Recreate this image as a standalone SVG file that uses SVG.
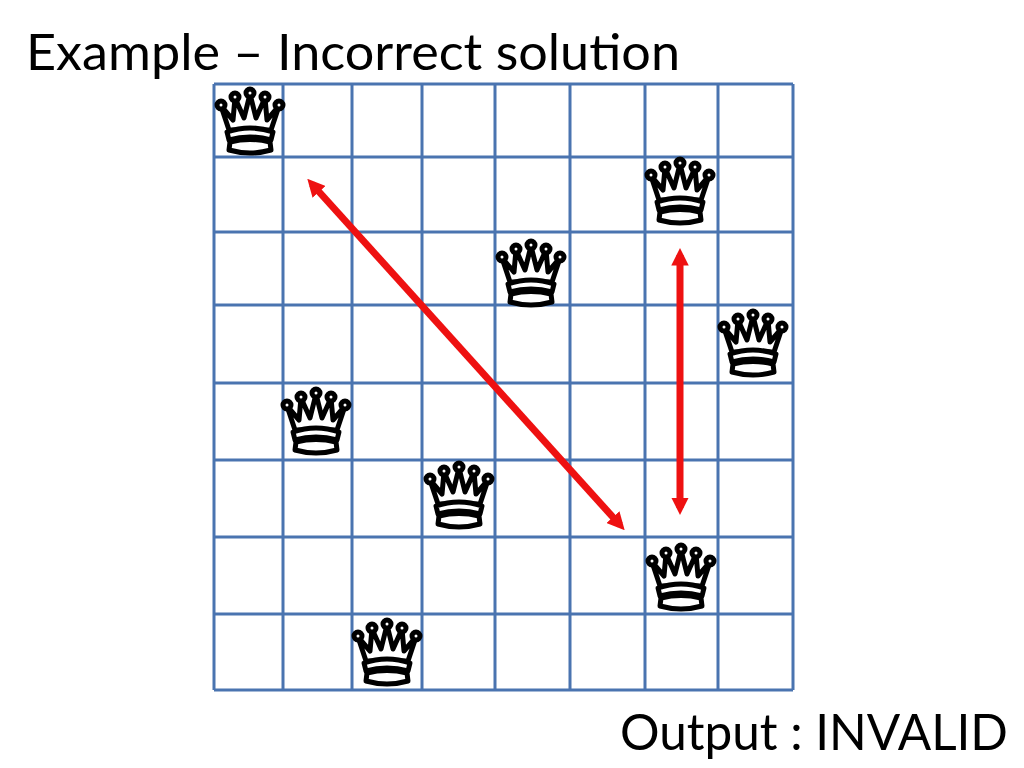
<svg xmlns="http://www.w3.org/2000/svg" width="1024" height="768" viewBox="0 0 1024 768">
<style>
.g{stroke:#4a74b0;stroke-width:3;fill:none}
.t{font-family:"Lato","Liberation Sans",sans-serif;fill:#000}
.q{fill:#fff;stroke:#000;stroke-width:5;stroke-linejoin:round}
.a{stroke:#ee1111;stroke-width:7;fill:none}
</style>
<defs>
<marker id="h" viewBox="0 0 10 10" refX="6" refY="5" markerWidth="2.5" markerHeight="2.5" orient="auto-start-reverse"><path d="M0,0 L10,5 L0,10 Z" fill="#ee1111"/></marker>
<g id="queen">
<path class="q" d="M14,44 L6,20 L18,34 L20,12 L29,32 L35,8 L41,32 L50,12 L52,34 L64,20 L56,44 Z"/>
<path class="q" d="M12,46 Q35,38 58,46 L56,54 Q35,48 14,54 Z"/>
<path class="q" d="M15,56 Q35,51 55,56 L56,64 Q35,70 14,64 Z"/>
<circle class="q" cx="6" cy="19" r="4"/><circle class="q" cx="20" cy="11" r="4"/><circle class="q" cx="35" cy="7" r="4"/><circle class="q" cx="50" cy="11" r="4"/><circle class="q" cx="64" cy="19" r="4"/>
</g>
</defs>
<rect width="1024" height="768" fill="#fff"/>
<text class="t" x="26" y="70" font-size="50" textLength="654" lengthAdjust="spacingAndGlyphs">Example – Incorrect solution</text>
<g id="grid" class="g">
<path d="M214,84V690M283,84V690M352,84V690M422,84V690M495,84V690M570,84V690M645,84V690M718,84V690M793,84V690"/>
<path d="M214,84H793M214,157H793M214,232H793M214,305H793M214,383H793M214,460H793M214,537H793M214,614H793M214,690H793"/>
</g>
<g id="queens">
<use href="#queen" x="215" y="86"/>
<use href="#queen" x="645" y="156"/>
<use href="#queen" x="496" y="238"/>
<use href="#queen" x="718" y="308"/>
<use href="#queen" x="281" y="386"/>
<use href="#queen" x="424" y="460"/>
<use href="#queen" x="646" y="542"/>
<use href="#queen" x="352" y="617"/>
</g>
<g id="connectors">
<line class="a" x1="312" y1="184" x2="620" y2="525" marker-start="url(#h)" marker-end="url(#h)"/>
<line class="a" x1="680" y1="255" x2="680" y2="508" marker-start="url(#h)" marker-end="url(#h)"/>
</g>
<text class="t" x="620" y="750" font-size="50" textLength="388" lengthAdjust="spacingAndGlyphs">Output : INVALID</text>
</svg>
